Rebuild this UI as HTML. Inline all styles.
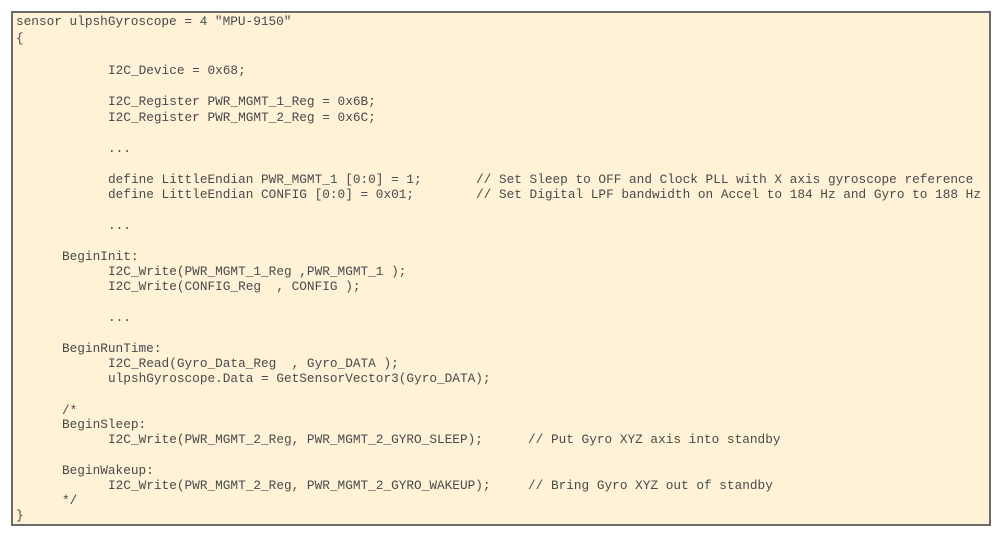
<!DOCTYPE html>
<html><head><style>
body{margin:0;width:1000px;height:540px;background:#fff;position:relative;overflow:hidden}
#box{position:absolute;left:11px;top:11px;width:980px;height:515px;background:#fff2d6;border:2px solid #6b6b6b;box-sizing:border-box}
.l{position:absolute;font-family:"Liberation Mono",monospace;font-size:12.75px;color:#4a4a4a;white-space:pre;line-height:14px;transform:translateY(-6px)}
</style></head><body>
<div id="box"></div>
<div class="l" style="left:16px;top:21px">sensor ulpshGyroscope = 4 "MPU-9150"</div>
<div class="l" style="left:16px;top:38px">{</div>
<div class="l" style="left:108px;top:70px">I2C_Device = 0x68;</div>
<div class="l" style="left:108px;top:101px">I2C_Register PWR_MGMT_1_Reg = 0x6B;</div>
<div class="l" style="left:108px;top:117px">I2C_Register PWR_MGMT_2_Reg = 0x6C;</div>
<div class="l" style="left:108px;top:148px">...</div>
<div class="l" style="left:108px;top:179px">define LittleEndian PWR_MGMT_1 [0:0] = 1;</div>
<div class="l" style="left:476px;top:179px">// Set Sleep to OFF and Clock PLL with X axis gyroscope reference</div>
<div class="l" style="left:108px;top:194px">define LittleEndian CONFIG [0:0] = 0x01;</div>
<div class="l" style="left:476px;top:194px">// Set Digital LPF bandwidth on Accel to 184 Hz and Gyro to 188 Hz</div>
<div class="l" style="left:108px;top:225px">...</div>
<div class="l" style="left:62px;top:256px">BeginInit:</div>
<div class="l" style="left:108px;top:271px">I2C_Write(PWR_MGMT_1_Reg ,PWR_MGMT_1 );</div>
<div class="l" style="left:108px;top:286px">I2C_Write(CONFIG_Reg  , CONFIG );</div>
<div class="l" style="left:108px;top:317px">...</div>
<div class="l" style="left:62px;top:348px">BeginRunTime:</div>
<div class="l" style="left:108px;top:363px">I2C_Read(Gyro_Data_Reg  , Gyro_DATA );</div>
<div class="l" style="left:108px;top:378px">ulpshGyroscope.Data = GetSensorVector3(Gyro_DATA);</div>
<div class="l" style="left:62px;top:410px">/*</div>
<div class="l" style="left:62px;top:424px">BeginSleep:</div>
<div class="l" style="left:108px;top:439px">I2C_Write(PWR_MGMT_2_Reg, PWR_MGMT_2_GYRO_SLEEP);</div>
<div class="l" style="left:528px;top:439px">// Put Gyro XYZ axis into standby</div>
<div class="l" style="left:62px;top:470px">BeginWakeup:</div>
<div class="l" style="left:108px;top:485px">I2C_Write(PWR_MGMT_2_Reg, PWR_MGMT_2_GYRO_WAKEUP);</div>
<div class="l" style="left:528px;top:485px">// Bring Gyro XYZ out of standby</div>
<div class="l" style="left:62px;top:500px">*/</div>
<div class="l" style="left:16px;top:515px">}</div>
</body></html>
